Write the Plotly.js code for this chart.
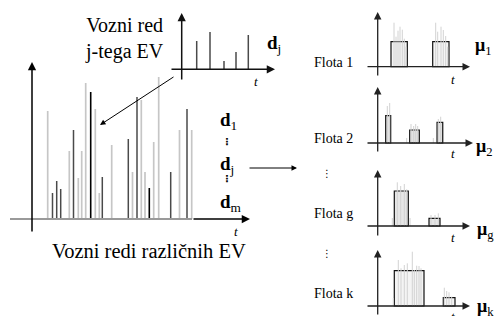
<!DOCTYPE html>
<html><head><meta charset="utf-8">
<script src="https://cdn.plot.ly/plotly-3.0.1.min.js"></script>
<style>html,body{margin:0;padding:0;background:#fff}#chart{width:496px;height:316px}</style>
</head><body><div id="chart"></div>
<script>
// ---- Main chart: schedules of different EVs (t, height) ----
const mainLightT = [15.7, 37.3, 46.3, 49.7, 53.7, 63.3, 67.3, 79.7, 100.5, 109.3, 113, 121.7, 126.7, 147.5, 159.7];
const mainLightH = [108, 68, 41, 68, 136, 110, 26, 74, 47, 119, 47, 77, 142, 89, 89];
const mainDarkT = [20.5, 24.7, 28.7, 41.5, 70.3, 96.3, 105, 138.7, 155];
const mainDarkH = [26, 38, 30, 89, 42, 80, 122, 47, 110];
const mainBlackT = [58.7, 117.3];
const mainBlackH = [127, 31];

// ---- Inset: schedule of j-th EV ----
const insetT = [15, 28.3, 42.3, 54.3, 66.6];
const insetH = [28.3, 37.3, 8.3, 17.3, 34.3];

// ---- Fleets ----
const fleetNames = ['Flota 1', 'Flota 2', 'Flota g', 'Flota k'];
const fleetMu = ['1', '2', 'g', 'k'];

const f1SpikeT = [16.3, 18.3, 20.3, 22.3, 24.6, 26.6, 28.3, 58, 60, 63.3, 65.6, 68, 70];
const f1SpikeH = [44, 30, 36, 40, 37, 28, 20, 44, 35, 40, 36.7, 30.7, 20];
const f1BlockT = [21.45, 63.15];
const f1BlockW = [16.3, 16.3];
const f1BlockH = [25, 25];

const f2SpikeT = [9.6, 12, 29, 33.3, 36, 38, 40, 55.6, 60.6, 63];
const f2SpikeH = [37, 40, 5, 19, 17, 19, 17, 5, 24, 26.3];
const f2BlockT = [10.5, 36.8, 62.2];
const f2BlockW = [5, 9.6, 5.7];
const f2BlockH = [27.3, 13, 20.7];

const fgSpikeT = [14.6, 19.6, 23, 26.6, 29, 32.3, 53.3, 57.3, 60.6];
const fgSpikeH = [8, 43.7, 40, 42, 36.7, 8, 11, 11, 12.7];
const fgBlockT = [23.6, 56.8];
const fgBlockW = [14, 11];
const fgBlockH = [35, 7.7];

const fkSpikeT = [15.6, 20.6, 23.3, 26.6, 29.6, 34.6, 36.6, 39, 41.3, 43.3, 66.6, 69, 71.3, 74];
const fkSpikeH = [8, 46, 37.7, 41, 42.7, 54.3, 36, 40.3, 40, 37.7, 18.3, 15, 13.7, 9.3];
const fkBlockT = [31.45, 71.45];
const fkBlockW = [29.7, 11.7];
const fkBlockH = [35.3, 8.3];

// ---------------------------------------------------------------
const W = 496, H = 316;
const px = v => v / W;
const py = v => 1 - v / H;
const SERIF = '"Liberation Serif", "Times New Roman", Times, serif';

function spikes(t, h, xa, ya, color, width) {
  const x = [], y = [];
  t.forEach((v, i) => { x.push(v, v, null); y.push(0, h[i], null); });
  return {type: 'scatter', mode: 'lines', x, y, xaxis: xa, yaxis: ya,
    line: {color, width}, hoverinfo: 'skip', showlegend: false, cliponaxis: false};
}
function blocks(t, w, h, xa, ya, fill) {
  return {type: 'bar', x: t, y: h, width: w, xaxis: xa, yaxis: ya,
    marker: {color: fill, line: {color: '#111', width: 1.2}},
    hoverinfo: 'skip', showlegend: false};
}

const traces = [
  spikes(mainLightT, mainLightH, 'x', 'y', '#c6c6c6', 1.7),
  spikes(mainDarkT, mainDarkH, 'x', 'y', '#4a4a4a', 1.5),
  spikes(mainBlackT, mainBlackH, 'x', 'y', '#000', 1.6),
  spikes(insetT, insetH, 'x2', 'y2', '#4a4a4a', 1.5),
  blocks(f1BlockT, f1BlockW, f1BlockH, 'x3', 'y3', '#f4f4f4'),
  spikes(f1SpikeT, f1SpikeH, 'x3', 'y3', '#d2d2d2', 1),
  blocks(f2BlockT, f2BlockW, f2BlockH, 'x4', 'y4', '#e2e2e2'),
  spikes(f2SpikeT, f2SpikeH, 'x4', 'y4', '#d2d2d2', 1),
  blocks(fgBlockT, fgBlockW, fgBlockH, 'x5', 'y5', '#e6e6e6'),
  spikes(fgSpikeT, fgSpikeH, 'x5', 'y5', '#d2d2d2', 1),
  blocks(fkBlockT, fkBlockW, fkBlockH, 'x6', 'y6', '#f4f4f4'),
  spikes(fkSpikeT, fkSpikeH, 'x6', 'y6', '#d2d2d2', 1)
];

function ax(domain, range) {
  return {domain, range, visible: false, fixedrange: true};
}

const layout = {
  width: W, height: H, margin: {l: 0, r: 0, t: 0, b: 0},
  paper_bgcolor: '#fff', plot_bgcolor: 'rgba(0,0,0,0)', showlegend: false,
  font: {family: SERIF, color: '#000'},
  bargap: 0,
  xaxis: ax([px(10), px(250)], [-22, 218]),
  yaxis: ax([py(233), py(62)], [-14, 157]),
  xaxis2: ax([px(170), px(275)], [-11.7, 93.3]),
  yaxis2: ax([py(81), py(13)], [-11.7, 56.3]),
  xaxis3: ax([px(366), px(473)], [-11.7, 95.3]),
  yaxis3: ax([py(77), py(12)], [-10.3, 54.7]),
  xaxis4: ax([px(366), px(473)], [-11.7, 95.3]),
  yaxis4: ax([py(153), py(87)], [-10, 56]),
  xaxis5: ax([px(366), px(473)], [-11.7, 95.3]),
  yaxis5: ax([py(237), py(170)], [-11, 56]),
  xaxis6: ax([px(366), px(473)], [-11.7, 95.3]),
  yaxis6: ax([0, py(250)], [-10, 56]),
  shapes: [
    {type: 'line', xref: 'x', yref: 'y', x0: -22, x1: 160, y0: 0, y1: 0,
     line: {color: '#9a9a9a', width: 2}}
  ],
  annotations: []
};

const A = layout.annotations;
function arrow(xr, yr, x0, y0, x1, y1, w, color, size) {
  A.push({xref: xr, yref: yr, axref: xr, ayref: yr, x: x1, y: y1, ax: x0, ay: y0,
    text: '', showarrow: true, arrowhead: 2, arrowwidth: w, arrowsize: size,
    arrowcolor: color, standoff: 0, startstandoff: 0});
}
function label(x, y, text, size, opts) {
  A.push(Object.assign({xref: 'paper', yref: 'paper', x: px(x), y: py(y), text,
    showarrow: false, xanchor: 'center', yanchor: 'middle', borderpad: 0,
    font: {family: SERIF, size, color: '#000'}}, opts || {}));
}

// main axes
arrow('x', 'y', 0, -14, 0, 157, 1.5, '#000', 1.1);
arrow('x', 'y', 160, 0, 218, 0, 1.5, '#000', 1.1);
// inset axes
arrow('x2', 'y2', 0, -11.7, 0, 56.3, 1.5, '#111', 1.1);
arrow('x2', 'y2', -11.7, 0, 93.3, 0, 1.5, '#111', 1.1);
// fleet axes
const fleetAxes = [['x3', 'y3', -10.3, 54.7, 92.3], ['x4', 'y4', -10, 56, 95.3],
                   ['x5', 'y5', -11, 56, 92.3], ['x6', 'y6', -10, 56, 92.3]];
fleetAxes.forEach(([xa, ya, b, t, tip]) => {
  arrow(xa, ya, 0, b, 0, t, 1.3, '#222', 1.15);
  arrow(xa, ya, -11.7, 0, tip, 0, 1.3, '#222', 1.15);
});

// pointer arrows (pixel offsets)
A.push({xref: 'paper', yref: 'paper', x: px(100), y: py(125), ax: 75, ay: -49,
  text: '', showarrow: true, arrowhead: 2, arrowwidth: 1, arrowsize: 1.1, arrowcolor: '#000', standoff: 0});
A.push({xref: 'paper', yref: 'paper', x: px(297), y: py(168), ax: -49, ay: 0,
  text: '', showarrow: true, arrowhead: 2, arrowwidth: 1, arrowsize: 1.1, arrowcolor: '#000', standoff: 0});

// texts
label(124, 38.5, 'Vozni red<br>j-tega EV', 20);
label(148.5, 250.5, 'Vozni redi različnih EV', 20.5);
label(266, 44, '<b>d</b><sub>j</sub>', 19, {xanchor: 'left'});
label(219, 121, '<b>d</b><sub>1</sub>', 19, {xanchor: 'left'});
label(219, 165, '<b>d</b><sub>j</sub>', 19, {xanchor: 'left'});
label(219, 203, '<b>d</b><sub>m</sub>', 19, {xanchor: 'left'});
const dotFont = {family: '"DejaVu Sans"', size: 10, color: '#000'};
label(226.5, 141.5, '<b>⋮</b>', 10, {font: dotFont});
label(226.5, 178, '<b>⋮</b>', 10, {font: dotFont});
label(327, 173, '⋮', 10, {font: dotFont});
label(327, 253, '⋮', 10, {font: dotFont});

// t labels
const tFont = {family: SERIF, size: 13, color: '#000'};
label(236, 231, '<i>t</i>', 13, {font: tFont});
label(256, 81, '<i>t</i>', 13, {font: tFont});
[79, 153, 237, 316].forEach(y => label(453, y, '<i>t</i>', 13, {font: tFont}));

// fleet labels
const fleetLabelY = [63, 138.5, 213, 293.5];
fleetNames.forEach((n, i) => label(333, fleetLabelY[i], n, 14));
const muPos = [[474, 46], [475, 147.5], [475.5, 230], [476, 307.5]];
fleetMu.forEach((m, i) => label(muPos[i][0], muPos[i][1], '<b>μ</b><sub>' + m + '</sub>', 18, {xanchor: 'left'}));

Plotly.newPlot('chart', traces, layout, {staticPlot: true, displayModeBar: false});
</script>
</body></html>
